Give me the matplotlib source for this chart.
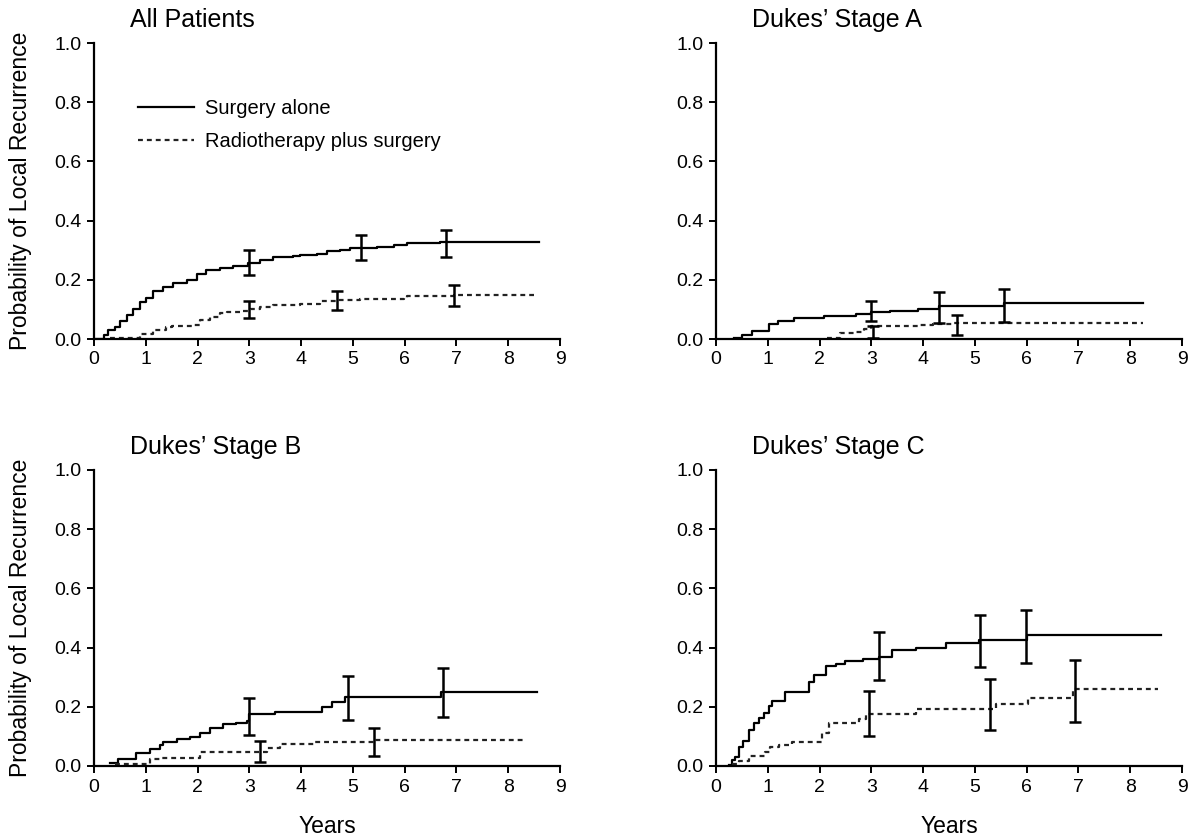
import matplotlib
matplotlib.use("Agg")
import matplotlib.pyplot as plt

plt.rcParams['font.family'] = ['Liberation Sans', 'DejaVu Sans']

# ---- All patients ----
all_surg_t = [0, 0.12, 0.2, 0.27, 0.4, 0.5, 0.63, 0.75, 0.88, 1.01, 1.14, 1.34, 1.53, 1.79, 1.98,
              2.17, 2.43, 2.69, 2.98, 3.21, 3.46, 3.85, 3.98, 4.3, 4.5, 4.75, 4.95, 5.46, 5.79,
              6.05, 6.69, 8.6]
all_surg_p = [0, 0, 0.012, 0.03, 0.039, 0.062, 0.082, 0.102, 0.126, 0.138, 0.161, 0.176, 0.188,
              0.2, 0.218, 0.232, 0.239, 0.247, 0.256, 0.268, 0.276, 0.28, 0.285, 0.288, 0.296,
              0.302, 0.309, 0.312, 0.318, 0.324, 0.327, 0.327]
all_rt_t = [0.3, 0.63, 0.88, 1.14, 1.4, 1.5, 1.92, 2.05, 2.24, 2.43, 2.56, 2.82, 3.01, 3.2, 3.46,
            3.98, 4.37, 4.69, 5.14, 5.98, 6.05, 6.95, 8.5]
all_rt_p = [0.002, 0.004, 0.018, 0.03, 0.039, 0.044, 0.047, 0.065, 0.076, 0.088, 0.092, 0.096,
            0.102, 0.109, 0.114, 0.119, 0.127, 0.132, 0.134, 0.138, 0.145, 0.149, 0.15]
all_surg_eb_t = [3.0, 5.15, 6.8]
all_surg_eb_lo = [0.215, 0.267, 0.276]
all_surg_eb_hi = [0.3, 0.353, 0.368]
all_rt_eb_t = [3.0, 4.7, 6.95]
all_rt_eb_lo = [0.071, 0.098, 0.112]
all_rt_eb_hi = [0.127, 0.162, 0.184]

# ---- Dukes' stage A ----
a_surg_t = [0.35, 0.5, 0.7, 1.02, 1.2, 1.5, 2.08, 2.7, 3.0, 3.37, 3.9, 4.3, 5.57, 8.25]
a_surg_p = [0.003, 0.015, 0.026, 0.05, 0.06, 0.07, 0.077, 0.085, 0.09, 0.095, 0.1, 0.11, 0.12, 0.12]
a_rt_t = [2.15, 2.25, 2.4, 2.7, 2.85, 3.0, 3.9, 4.2, 4.6, 8.25]
a_rt_p = [0.002, 0.005, 0.02, 0.025, 0.035, 0.044, 0.047, 0.05, 0.055, 0.055]
a_surg_eb_t = [3.0, 4.3, 5.57]
a_surg_eb_lo = [0.062, 0.054, 0.058]
a_surg_eb_hi = [0.13, 0.16, 0.17]
a_rt_eb_t = [3.03, 4.65]
a_rt_eb_lo = [0.002, 0.012]
a_rt_eb_hi = [0.043, 0.081]

# ---- Dukes' stage B ----
b_surg_t = [0.3, 0.46, 0.82, 1.08, 1.27, 1.33, 1.6, 1.85, 2.05, 2.24, 2.5, 2.75, 2.95, 3.0, 3.5,
            4.24, 4.4, 4.6, 4.85, 6.7, 8.56]
b_surg_p = [0.01, 0.024, 0.045, 0.056, 0.07, 0.08, 0.092, 0.098, 0.113, 0.127, 0.141, 0.145,
            0.153, 0.174, 0.184, 0.184, 0.2, 0.215, 0.233, 0.25, 0.25]
b_rt_t = [0.4, 1.08, 1.27, 2.05, 3.34, 3.6, 4.24, 5.4, 8.34]
b_rt_p = [0.008, 0.024, 0.027, 0.048, 0.062, 0.074, 0.08, 0.089, 0.089]
b_surg_eb_t = [3.0, 4.9, 6.75]
b_surg_eb_lo = [0.104, 0.154, 0.165]
b_surg_eb_hi = [0.23, 0.304, 0.33]
b_rt_eb_t = [3.2, 5.4]
b_rt_eb_lo = [0.015, 0.035]
b_rt_eb_hi = [0.083, 0.13]

# ---- Dukes' stage C ----
c_surg_t = [0.25, 0.3, 0.37, 0.44, 0.53, 0.63, 0.73, 0.83, 0.92, 1.02, 1.08, 1.34, 1.79, 1.89,
            2.12, 2.31, 2.5, 2.83, 3.15, 3.4, 3.86, 4.44, 5.08, 6.0, 8.6]
c_surg_p = [0.005, 0.02, 0.03, 0.065, 0.083, 0.123, 0.146, 0.163, 0.18, 0.203, 0.22, 0.25,
            0.283, 0.306, 0.339, 0.345, 0.355, 0.362, 0.367, 0.392, 0.4, 0.416, 0.424, 0.441, 0.441]
c_rt_t = [0.3, 0.44, 0.63, 0.95, 1.05, 1.21, 1.47, 2.05, 2.18, 2.76, 2.89, 3.02, 3.86, 5.41,
          6.02, 6.9, 8.54]
c_rt_p = [0.008, 0.017, 0.034, 0.048, 0.063, 0.071, 0.08, 0.111, 0.144, 0.16, 0.175, 0.177,
          0.192, 0.209, 0.229, 0.259, 0.259]
c_surg_eb_t = [3.15, 5.1, 5.98]
c_surg_eb_lo = [0.29, 0.333, 0.347]
c_surg_eb_hi = [0.452, 0.509, 0.528]
c_rt_eb_t = [2.95, 5.3, 6.93]
c_rt_eb_lo = [0.10, 0.123, 0.148]
c_rt_eb_hi = [0.253, 0.293, 0.359]

titles = ["All Patients", "Dukes\u2019 Stage A", "Dukes\u2019 Stage B", "Dukes\u2019 Stage C"]
panels = [
    (all_surg_t, all_surg_p, all_rt_t, all_rt_p, all_surg_eb_t, all_surg_eb_lo, all_surg_eb_hi,
     all_rt_eb_t, all_rt_eb_lo, all_rt_eb_hi),
    (a_surg_t, a_surg_p, a_rt_t, a_rt_p, a_surg_eb_t, a_surg_eb_lo, a_surg_eb_hi,
     a_rt_eb_t, a_rt_eb_lo, a_rt_eb_hi),
    (b_surg_t, b_surg_p, b_rt_t, b_rt_p, b_surg_eb_t, b_surg_eb_lo, b_surg_eb_hi,
     b_rt_eb_t, b_rt_eb_lo, b_rt_eb_hi),
    (c_surg_t, c_surg_p, c_rt_t, c_rt_p, c_surg_eb_t, c_surg_eb_lo, c_surg_eb_hi,
     c_rt_eb_t, c_rt_eb_lo, c_rt_eb_hi),
]

fig = plt.figure(figsize=(11.91, 8.39), dpi=100)
W, H = 1191, 839
ax_w, ax_h = 466 / W, 296 / H
positions = [(94 / W, 1 - 339 / H), (716 / W, 1 - 339 / H),
             (94 / W, 1 - 766 / H), (716 / W, 1 - 766 / H)]

def add_eb(ax, t, lo, hi):
    mid = [(l + h) / 2 for l, h in zip(lo, hi)]
    err = [[m - l for m, l in zip(mid, lo)], [h - m for h, m in zip(hi, mid)]]
    ax.errorbar(t, mid, yerr=err, fmt='none', ecolor='black', elinewidth=1.8,
                capsize=4, capthick=1.8, zorder=4)

for i, (pos, data) in enumerate(zip(positions, panels)):
    st, sp, rt, rp, set_, slo, shi, ret, rlo, rhi = data
    ax = fig.add_axes([pos[0], pos[1], ax_w, ax_h])
    ax.step(st, sp, where='post', color='black', lw=1.6, label='Surgery alone')
    ax.step(rt, rp, where='post', color='#222222', lw=1.6, linestyle=(0, (2.2, 1.8)),
            label='Radiotherapy plus surgery')
    add_eb(ax, set_, slo, shi)
    add_eb(ax, ret, rlo, rhi)

    ax.set_xlim(0, 9)
    ax.set_ylim(0, 1.0)
    ax.set_xticks(range(10))
    ax.set_yticks([0, 0.2, 0.4, 0.6, 0.8, 1.0])
    ax.set_yticklabels(['0.0', '0.2', '0.4', '0.6', '0.8', '1.0'])
    for s in ['top', 'right']:
        ax.spines[s].set_visible(False)
    for s in ['left', 'bottom']:
        ax.spines[s].set_linewidth(1.6)
    ax.tick_params(labelsize=14, length=5, width=1.4, pad=4)
    ax.text(0.077, 1.078, titles[i], transform=ax.transAxes, fontsize=18, va='center', ha='left')

    if i == 0:
        ax.legend(loc='upper left', bbox_to_anchor=(0.094, 0.81), frameon=False,
                  fontsize=14.5, handlelength=2.8, handletextpad=0.55, labelspacing=0.7,
                  borderpad=0, borderaxespad=0)
    if i in (0, 2):
        fig.text(21 / W, pos[1] + ax_h / 2, 'Probability of Local Recurrence', rotation=90,
                 fontsize=16.5, ha='center', va='center')
    if i in (2, 3):
        ax.text(0.5, -0.206, 'Years', transform=ax.transAxes, fontsize=16.5,
                ha='center', va='center')

fig.savefig('out.png', dpi=100)
